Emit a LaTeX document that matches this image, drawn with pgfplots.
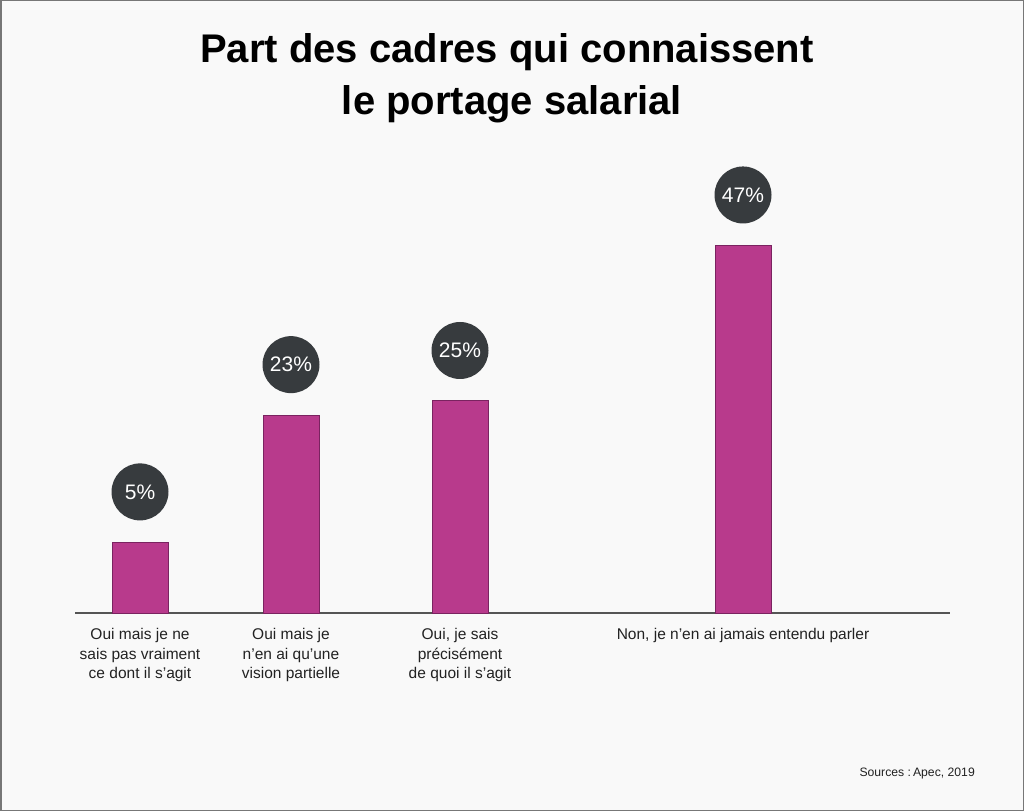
\documentclass[border=0pt]{standalone}
\usepackage{pgfplots}
\pgfplotsset{compat=1.18}
\usepackage{fontspec}
\setmainfont{Liberation Sans}
\definecolor{bg}{HTML}{F9F9F9}
\definecolor{barc}{HTML}{B83A8C}
\definecolor{bard}{HTML}{7A2360}
\definecolor{circ}{HTML}{373B3E}
\definecolor{axc}{HTML}{555555}
\definecolor{txt}{HTML}{222222}
\begin{document}
\begin{tikzpicture}[x=1pt,y=1pt]
\fill[bg] (0,0) rectangle (1024,811);
\draw[line width=1.5pt, color=axc!80] (0.75,0.75) rectangle (1023.25,810.25);
\node[anchor=base, inner sep=0pt, font=\fontsize{40}{45}\selectfont\bfseries] at (507,748) {Part des cadres qui connaissent};
\node[anchor=base, inner sep=0pt, font=\fontsize{40}{45}\selectfont\bfseries] at (512,696) {le portage salarial};
\node[anchor=base east, inner sep=0pt, font=\fontsize{12.2}{15}\selectfont, text=txt] at (975,35) {Sources :\,Apec, 2019};
\begin{axis}[
  at={(75pt,198pt)}, anchor=south west,
  x=1pt, y=7.07pt,
  xmin=75, xmax=950, ymin=-5, ymax=52,
  y coord trafo/.code={\pgfmathparse{#1+5}},
  y coord inv trafo/.code={\pgfmathparse{#1-5}},
  clip=false,
  axis x line*=bottom, axis y line=none,
  axis line style={color=axc, line width=1.2pt, -},
  xtick={140,291,460,743},
  xticklabels={{Oui mais je ne\\sais pas vraiment\\ce dont il s’agit},{Oui mais je\\n’en ai qu’une\\vision partielle},{Oui, je sais\\précisément\\de quoi il s’agit},{Non, je n’en ai jamais entendu parler}},
  xticklabel style={align=center, font=\fontsize{15.5}{19.5}\selectfont, text=txt, yshift=-12pt},
  major tick length=0pt,
  ytick=\empty,
  ybar, bar width=56,
  point meta=explicit symbolic,
  nodes near coords,
  every node near coord/.append style={circle, fill=circ, text=white, minimum size=57pt, inner sep=0pt, anchor=south, yshift=21.5pt, font=\fontsize{21}{21}\selectfont},
]
\addplot[fill=barc, draw=bard, line width=0.8pt] coordinates {(140,5) [5\%] (291,23) [23\%] (460,25) [25\%] (743,47) [47\%]};
\end{axis}
\end{tikzpicture}
\end{document}
